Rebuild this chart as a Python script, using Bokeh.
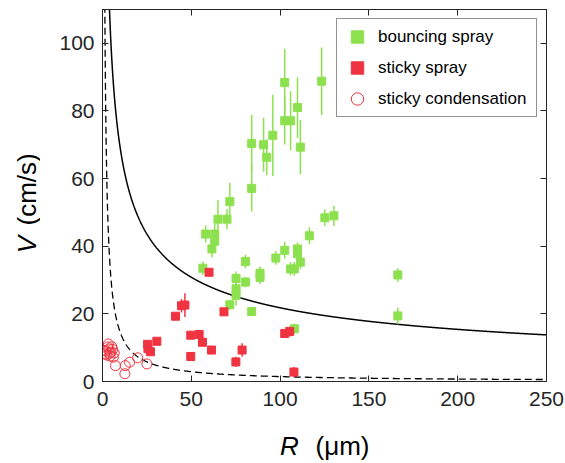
import numpy as np
from bokeh.plotting import figure
from bokeh.layouts import row, column
from bokeh.models import Range1d, LinearAxis, Label, FixedTicker, Legend, LegendItem
from bokeh.embed import file_html
from bokeh.resources import INLINE

# bouncing spray (R um, V cm/s, error)
bounce_R = [56.5, 58.1, 61.6, 63.2, 63.2, 65.0, 70.1, 71.7, 71.7, 75.2, 75.2, 75.2, 80.5, 80.5,
            84.0, 84.0, 84.0, 88.7, 88.7, 90.7, 92.5, 95.9, 97.6, 102.6, 102.6, 102.6, 105.9,
            105.9, 108.0, 108.0, 109.8, 109.8, 109.8, 111.4, 111.4, 116.5, 123.4, 125.2, 130.3,
            166.3, 166.3]
bounce_V = [33.5, 43.6, 39.2, 43.6, 41.5, 48.0, 48.0, 53.2, 22.7, 30.5, 27.4, 25.5, 35.5, 29.4,
            70.4, 57.1, 20.7, 32.0, 30.8, 70.0, 66.3, 72.8, 36.5, 88.4, 77.1, 38.8, 77.1,
            33.3, 15.6, 33.3, 81.0, 39.2, 37.8, 69.3, 35.3, 43.1, 88.8, 48.4, 49.0,
            31.5, 19.4]
bounce_E = [2.0, 2.5, 2.5, 3.0, 3.0, 5.7, 3.0, 5.6, 1.5, 2.0, 2.0, 3.0, 2.0, 1.5,
            8.4, 6.8, 1.0, 2.0, 2.0, 8.0, 5.3, 12.0, 2.0, 10.0, 7.0, 2.5, 8.7,
            2.0, 1.5, 2.0, 9.0, 2.0, 2.0, 8.0, 2.0, 2.5, 10.0, 2.5, 3.0,
            2.0, 2.5]

# sticky spray
sticky_R = [25.4, 25.6, 27.0, 30.6, 41.1, 44.5, 46.4, 49.7, 49.7, 54.4, 56.3, 60.0, 61.4,
            68.4, 75.1, 78.6, 102.6, 105.4, 107.8]
sticky_V = [11.0, 9.7, 8.8, 11.9, 19.3, 22.4, 22.6, 13.7, 7.4, 13.9, 11.6, 32.3, 9.3,
            20.6, 5.8, 9.3, 14.2, 14.8, 2.8]
sticky_E = [1.0, 1.0, 1.0, 1.0, 1.0, 2.0, 3.5, 1.0, 1.0, 1.0, 1.0, 1.0, 1.0,
            1.0, 1.5, 2.0, 1.0, 1.5, 1.5]

# sticky condensation
cond_R = [0.8, 2.0, 3.3, 3.0, 4.0, 4.7, 5.2, 6.1, 4.3, 2.6, 5.7, 3.6, 7.3, 12.8, 12.6,
          15.2, 19.8, 25.0, 6.6, 1.5]
cond_V = [9.2, 9.0, 11.1, 10.2, 8.3, 8.7, 10.3, 7.2, 7.5, 7.8, 9.5, 9.6, 4.7, 4.7, 2.3,
          5.7, 7.0, 5.2, 8.4, 8.1]

# model curves V = C / R^n
solid_C, solid_n = 218.0, 0.5
dash_C, dash_n = 145.0, 1.0

x_ticks = [0, 50, 100, 150, 200, 250]
y_ticks = [0, 20, 40, 60, 80, 100]

GREEN = "#8de14f"
RED = "#f03340"
AX = "#262626"

p = figure(width=525, height=415, output_backend="svg", toolbar_location=None,
           x_range=Range1d(0, 250), y_range=Range1d(0, 110),
           min_border_left=62, min_border_right=19, min_border_top=9, min_border_bottom=34)
p.xgrid.visible = False
p.ygrid.visible = False
p.outline_line_color = AX
p.outline_line_width = 1
p.background_fill_color = "white"

def style_axis(ax, ticks, labels=True):
    ax.ticker = FixedTicker(ticks=ticks)
    ax.axis_line_color = AX
    ax.major_tick_line_color = AX
    ax.major_tick_in = 6
    ax.major_tick_out = 0
    ax.minor_tick_line_color = None
    if labels:
        ax.major_label_text_font = "Liberation Sans"
        ax.major_label_text_font_size = "21px"
        ax.major_label_text_color = AX
    else:
        ax.major_label_text_font_size = "1px"
        ax.major_label_text_color = None
        ax.major_label_standoff = 0

style_axis(p.xaxis[0], x_ticks)
p.xaxis[0].major_label_standoff = 10
style_axis(p.yaxis[0], y_ticks)
p.yaxis[0].major_label_standoff = 8

top_ax = LinearAxis()
style_axis(top_ax, x_ticks, labels=False)
p.add_layout(top_ax, "above")
right_ax = LinearAxis()
style_axis(right_ax, y_ticks, labels=False)
p.add_layout(right_ax, "right")

# curves
Rs = np.linspace(0.5, 250, 2000)
p.line(Rs, solid_C / Rs ** solid_n, line_color="black", line_width=1.5)
p.line(Rs, dash_C / Rs ** dash_n, line_color="black", line_width=1.3, line_dash="7 4")

# error bars
bR = np.array(bounce_R); bV = np.array(bounce_V); bE = np.array(bounce_E)
sR = np.array(sticky_R); sV = np.array(sticky_V); sE = np.array(sticky_E)
p.segment(bR, bV - bE, bR, bV + bE, line_color=GREEN, line_width=1.5)
p.segment(sR, sV - sE, sR, sV + sE, line_color=RED, line_width=1.5)

r_b = p.scatter(bR, bV, marker="square", size=8, fill_color=GREEN, line_color=GREEN)
r_s = p.scatter(sR, sV, marker="square", size=8, fill_color=RED, line_color=RED)
r_c = p.scatter(cond_R, cond_V, marker="circle", size=10, fill_color=None, line_color=RED,
                line_width=1)

legend = Legend(items=[LegendItem(label="bouncing spray", renderers=[r_b]),
                       LegendItem(label="sticky spray", renderers=[r_s]),
                       LegendItem(label="sticky condensation", renderers=[r_c])],
                location="top_right")
legend.margin = 9
legend.padding = 2
legend.spacing = 0
legend.glyph_width = 36
legend.glyph_height = 31
legend.label_standoff = 3
legend.label_width = 156
legend.label_text_font = "Liberation Sans"
legend.label_text_font_size = "17px"
legend.label_text_color = "black"
legend.border_line_color = AX
legend.border_line_width = 1
legend.background_fill_alpha = 1
p.add_layout(legend)

# axis titles drawn in small companion figures (so they are not clipped)
common = dict(text_align="center", text_baseline="middle",
              text_font="Liberation Sans", text_font_size="26px", text_color="black")

# same vertical borders as the main plot, so its frame spans the same pixels
ylab = figure(width=40, height=415, output_backend="svg", toolbar_location=None,
              x_range=Range1d(0, 40), y_range=Range1d(0, 110), x_axis_type=None, y_axis_type=None,
              min_border_left=0, min_border_right=0, min_border_top=9, min_border_bottom=34)
ylab.outline_line_color = None
ylab.xgrid.visible = False
ylab.ygrid.visible = False
ylab.add_layout(Label(x=26, y=40.5, text="V", angle=np.pi / 2, text_font_style="italic", **common))
ylab.add_layout(Label(x=26, y=56.8, text="(cm/s)", angle=np.pi / 2, **common))

xlab = figure(width=565, height=48, output_backend="svg", toolbar_location=None,
              x_range=Range1d(0, 565), y_range=Range1d(0, 48), x_axis_type=None, y_axis_type=None,
              min_border_left=0, min_border_right=0, min_border_top=0, min_border_bottom=0)
xlab.outline_line_color = None
xlab.xgrid.visible = False
xlab.ygrid.visible = False
xlab.add_layout(Label(x=289, y=18, text="R", text_font_style="italic", **common))
xlab.add_layout(Label(x=342, y=18, text="(\u03bcm)", **common))

layout = column(row(ylab, p), xlab)
open("out.html", "w").write(file_html(layout, INLINE))
